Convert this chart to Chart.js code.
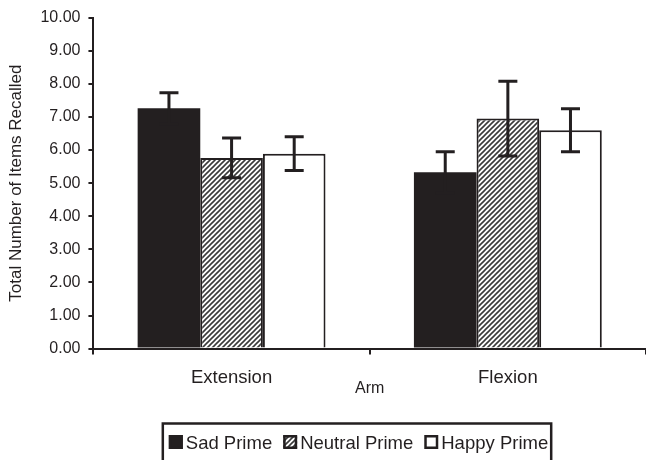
<!DOCTYPE html>
<html>
<head>
<meta charset="utf-8">
<script src="https://cdn.jsdelivr.net/npm/chart.js@4"></script>
<style>
  body { margin: 0; background: #fff; }
  #wrap { width: 646px; height: 460px; }
</style>
</head>
<body>
<div id="wrap"><canvas id="armChart"></canvas></div>
<script>
const categories = ['Extension', 'Flexion'];
const seriesNames = ['Sad Prime', 'Neutral Prime', 'Happy Prime'];

const sadValues = [7.26, 5.33];
const sadErrors = [0.47, 0.62];
const neutralValues = [5.76, 6.95];
const neutralErrors = [0.6, 1.13];
const happyValues = [5.89, 6.6];
const happyErrors = [0.51, 0.65];

const yTicks = [0, 1, 2, 3, 4, 5, 6, 7, 8, 9, 10];

const ink = '#231f20';
const fontFamily = '"Liberation Sans", Arial, sans-serif';

function makeHatch() {
  const c = document.createElement('canvas');
  c.width = 5;
  c.height = 5;
  const g = c.getContext('2d');
  g.fillStyle = '#fff';
  g.fillRect(0, 0, 5, 5);
  g.strokeStyle = '#3a3a3a';
  g.lineWidth = 1.6;
  g.beginPath();
  g.moveTo(0, 5); g.lineTo(5, 0);
  g.moveTo(-1, 1); g.lineTo(1, -1);
  g.moveTo(4, 6); g.lineTo(6, 4);
  g.stroke();
  return g.createPattern(c, 'repeat');
}
const hatch = makeHatch();

const errorBars = {
  id: 'errorBars',
  afterDatasetsDraw(chart) {
    const ctx = chart.ctx;
    const y = chart.scales.y;
    ctx.save();
    ctx.strokeStyle = ink;
    ctx.lineWidth = 3;
    chart.data.datasets.forEach((ds, i) => {
      const meta = chart.getDatasetMeta(i);
      meta.data.forEach((bar, j) => {
        const v = ds.data[j];
        const e = ds.errors[j];
        const top = y.getPixelForValue(v + e);
        const bot = y.getPixelForValue(v - e);
        ctx.beginPath();
        ctx.moveTo(bar.x, top); ctx.lineTo(bar.x, bot);
        ctx.moveTo(bar.x - 9.5, top); ctx.lineTo(bar.x + 9.5, top);
        ctx.moveTo(bar.x - 9.5, bot); ctx.lineTo(bar.x + 9.5, bot);
        ctx.stroke();
      });
    });
    ctx.restore();
  }
};

// legend drawn by hand, boxed like the original figure
const boxedLegend = {
  id: 'boxedLegend',
  afterDraw(chart) {
    const ctx = chart.ctx;
    ctx.save();
    ctx.font = '18.5px ' + fontFamily;
    const box = 14, gap = 3, itemGap = 11;
    const widths = chart.data.datasets.map(ds => ctx.measureText(ds.label).width);
    const total = widths.reduce((a, w) => a + box + gap + w, 0) + itemGap * (widths.length - 1);
    let x = 358.5 - total / 2;
    const boxTop = 435;
    ctx.lineWidth = 2.5;
    ctx.strokeStyle = ink;
    ctx.strokeRect(x - 6, 423.5, total + 9, 60);
    chart.data.datasets.forEach((ds, i) => {
      ctx.fillStyle = ds.backgroundColor;
      ctx.fillRect(x, boxTop, box, box);
      ctx.strokeRect(x + 1.25, boxTop + 1.25, box - 2.5, box - 2.5);
      ctx.fillStyle = ink;
      ctx.textBaseline = 'alphabetic';
      ctx.fillText(ds.label, x + box + gap, boxTop + 14);
      x += box + gap + widths[i] + itemGap;
    });
    ctx.restore();
  }
};

const dataArm = {
  labels: categories,
  datasets: [
    { label: seriesNames[0], data: sadValues, errors: sadErrors, backgroundColor: ink, borderWidth: 0 },
    { label: seriesNames[1], data: neutralValues, errors: neutralErrors, backgroundColor: hatch, borderWidth: 2 },
    { label: seriesNames[2], data: happyValues, errors: happyErrors, backgroundColor: '#ffffff', borderWidth: 2 },
  ].map(ds => Object.assign(ds, {
    borderColor: ink,
    categoryPercentage: 0.68,
    barPercentage: 1.0,
  })),
};

const configArm = {
  type: 'bar',
  data: dataArm,
  plugins: [errorBars, boxedLegend],
  options: {
    responsive: true,
    maintainAspectRatio: false,
    animation: false,
    layout: { padding: { top: 8, right: 0, bottom: 62, left: 0 } },
    plugins: {
      legend: { display: false },
      tooltip: { enabled: false },
    },
    scales: {
      x: {
        grid: { offset: true, drawOnChartArea: false, tickLength: 6, color: ink, lineWidth: 2 },
        border: { display: true, color: ink, width: 2 },
        ticks: { color: ink, padding: 12, font: { size: 18.5, family: fontFamily } },
        title: {
          display: true,
          text: 'Arm',
          color: ink,
          font: { size: 16, family: fontFamily },
          padding: { top: -22, bottom: 0 },
        },
      },
      y: {
        min: 0,
        max: 10,
        afterBuildTicks: (axis) => { axis.ticks = yTicks.map(v => ({ value: v })); },
        grid: { drawOnChartArea: false, tickLength: 5, color: ink, lineWidth: 2 },
        border: { display: true, color: ink, width: 2 },
        ticks: {
          color: ink,
          padding: 8,
          font: { size: 16, family: fontFamily },
          callback: (v) => Number(v).toFixed(2),
        },
        title: {
          display: true,
          text: 'Total Number of Items Recalled',
          color: ink,
          font: { size: 17, family: fontFamily },
          padding: { top: 6, bottom: 6 },
        },
      },
    },
  },
};

const ctxArm = document.getElementById('armChart').getContext('2d');
const armChart = new Chart(ctxArm, configArm);
</script>
</body>
</html>
